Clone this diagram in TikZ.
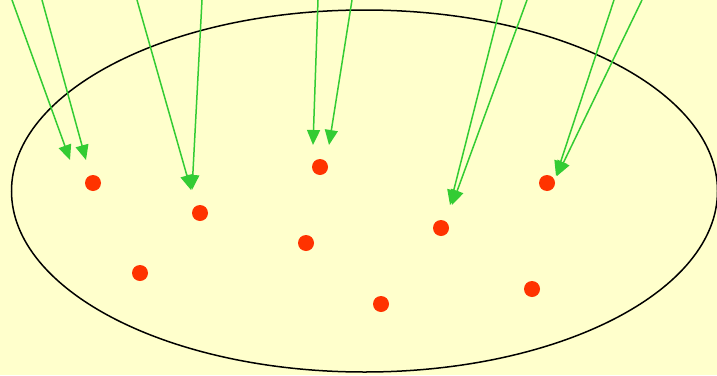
\documentclass[tikz,border=0pt]{standalone}
\usetikzlibrary{arrows.meta,shapes.geometric}
\definecolor{bg}{HTML}{FFFFCC}
\definecolor{grn}{HTML}{33CC33}
\definecolor{rd}{HTML}{FF3300}
\begin{document}
\begin{tikzpicture}[x=1pt,y=-1pt,
  dot/.style={circle,fill=rd,inner sep=0pt,minimum size=16pt},
  arr/.style={draw=grn,line width=1.5pt,-{Triangle[length=15pt,width=13pt]}}]
\fill[bg] (0,0) rectangle (717,375);
\useasboundingbox (0,0) rectangle (717,375);
\clip (0,0) rectangle (717,375);
\node[draw=black,line width=1.5pt,ellipse,minimum width=706pt,minimum height=362pt,inner sep=0pt] (ell) at (364.5,191) {};
\node[dot] (d1) at (93,183) {};
\node[dot] (d2) at (200,213) {};
\node[dot] (d3) at (140,273) {};
\node[dot] (d4) at (320,167) {};
\node[dot] (d5) at (306,243) {};
\node[dot] (d6) at (381,304) {};
\node[dot] (d7) at (441,228) {};
\node[dot] (d8) at (547,183) {};
\node[dot] (d9) at (532,289) {};
\coordinate (s1) at (12,0);   \coordinate (t1) at (70,160);
\coordinate (s2) at (42,0);   \coordinate (t2) at (86,160);
\coordinate (s3) at (137,0);  \coordinate (t3) at (191,190);
\coordinate (s4) at (202,0);  \coordinate (t4) at (192,190);
\coordinate (s5) at (318,0);  \coordinate (t5) at (313,145);
\coordinate (s6) at (352,0);  \coordinate (t6) at (329,145);
\coordinate (s7) at (502,0);  \coordinate (t7) at (450,205);
\coordinate (s8) at (527,0);  \coordinate (t8) at (452,205);
\coordinate (s9) at (614,0);  \coordinate (t9) at (556,176);
\coordinate (s10) at (642,0); \coordinate (t10) at (557,176);
\foreach \i in {1,...,10} {\draw[arr] (s\i) -- (t\i);}
\end{tikzpicture}
\end{document}
